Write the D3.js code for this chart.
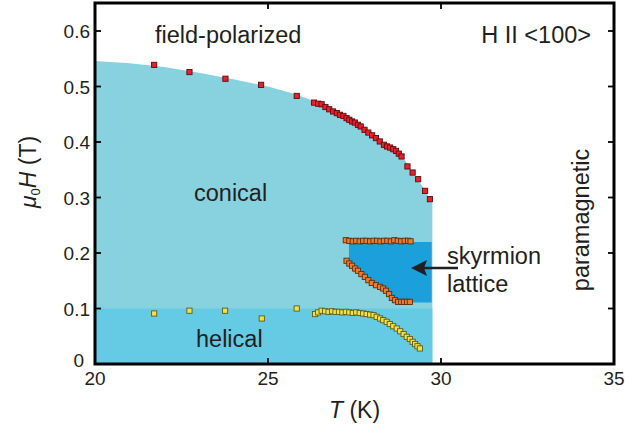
<!DOCTYPE html>
<html>
<head>
<meta charset="utf-8">
<script src="https://cdn.jsdelivr.net/npm/d3@7/dist/d3.min.js"></script>
<style>
  html, body { margin: 0; padding: 0; background: #fff; }
  svg text { font-family: "Liberation Sans", Arial, Helvetica, sans-serif; fill: #231f20; }
</style>
</head>
<body>
<svg id="chart" width="625" height="431"></svg>
<script>
// ---------- data ----------
const xTicks = [20, 25, 30, 35];
const yTicks = [0, 0.1, 0.2, 0.3, 0.4, 0.5, 0.6];
const yTickLabels = ["0", "0.1", "0.2", "0.3", "0.4", "0.5", "0.6"];

// upper phase boundary of the conical phase (T, H)
const conicalBoundaryT = [20, 21, 22, 23, 24, 25, 25.8, 26.5, 27, 27.5, 28, 28.5, 28.9, 29.2, 29.5, 29.75, 29.75];
const conicalBoundaryH = [0.546, 0.542, 0.535, 0.525, 0.513, 0.500, 0.486, 0.470, 0.455, 0.437, 0.414, 0.393, 0.372, 0.346, 0.316, 0.29, 0];
const helicalTop = 0.1;
const helicalTmax = 29.75;

// skyrmion lattice pocket
const skyT = [27.34, 29.73, 29.73, 28.8, 28.45, 28.0, 27.6, 27.34];
const skyH = [0.220, 0.220, 0.111, 0.111, 0.128, 0.146, 0.167, 0.188];

// Hc2 data (red)
const redT = [21.71, 22.73, 23.77, 24.80, 25.83, 26.33, 26.45, 26.55, 26.66, 26.77, 26.88, 26.99, 27.08, 27.18, 27.27, 27.35, 27.43, 27.51, 27.60, 27.68, 27.79, 27.90, 28.01, 28.12, 28.23, 28.35, 28.44, 28.53, 28.62, 28.70, 28.78, 28.86, 29.03, 29.18, 29.34, 29.54, 29.68];
const redH = [0.539, 0.526, 0.514, 0.503, 0.483, 0.471, 0.469, 0.468, 0.463, 0.459, 0.455, 0.452, 0.449, 0.447, 0.443, 0.440, 0.437, 0.435, 0.431, 0.428, 0.422, 0.417, 0.412, 0.407, 0.401, 0.395, 0.392, 0.390, 0.387, 0.384, 0.379, 0.374, 0.356, 0.345, 0.333, 0.312, 0.297];

// skyrmion boundaries (orange)
const orangeTopT = [27.25, 27.35, 27.45, 27.55, 27.65, 27.75, 27.85, 27.95, 28.05, 28.15, 28.25, 28.35, 28.45, 28.55, 28.65, 28.75, 28.85, 28.95, 29.05, 29.12];
const orangeTopH = [0.223, 0.222, 0.221, 0.222, 0.221, 0.222, 0.222, 0.221, 0.222, 0.222, 0.221, 0.222, 0.222, 0.221, 0.223, 0.222, 0.221, 0.222, 0.222, 0.221];
const orangeLowT = [27.27, 27.35, 27.43, 27.52, 27.60, 27.70, 27.80, 27.90, 28.00, 28.12, 28.24, 28.33, 28.41, 28.50, 28.58, 28.67, 28.76, 28.85, 28.93, 29.02, 29.10];
const orangeLowH = [0.186, 0.181, 0.177, 0.172, 0.168, 0.162, 0.157, 0.151, 0.146, 0.142, 0.139, 0.136, 0.132, 0.126, 0.119, 0.115, 0.112, 0.112, 0.112, 0.112, 0.112];

// helical boundary (yellow)
const yellowT = [21.71, 22.73, 23.76, 24.82, 25.83, 26.36, 26.45, 26.55, 26.65, 26.75, 26.85, 26.95, 27.05, 27.15, 27.25, 27.35, 27.45, 27.55, 27.65, 27.75, 27.85, 27.95, 28.05, 28.14, 28.24, 28.33, 28.43, 28.52, 28.62, 28.72, 28.82, 28.92, 29.01, 29.10, 29.18, 29.25, 29.32, 29.39];
const yellowH = [0.091, 0.096, 0.096, 0.082, 0.100, 0.090, 0.093, 0.096, 0.095, 0.094, 0.095, 0.094, 0.094, 0.093, 0.094, 0.093, 0.092, 0.093, 0.092, 0.091, 0.090, 0.089, 0.088, 0.085, 0.082, 0.079, 0.076, 0.072, 0.068, 0.064, 0.059, 0.054, 0.049, 0.045, 0.040, 0.036, 0.032, 0.028];

// ---------- layout ----------
const svg = d3.select("#chart");
const L = 95, R = 614, T = 3, B = 364;
const x = d3.scaleLinear().domain([20, 35]).range([L, R]);
const y = d3.scaleLinear().domain([0, 0.65]).range([B, B - 0.65 * (B - 31) / 0.6]);

const cConical = "#88d1de";
const cHelical = "#65cbe5";
const cSky = "#1ca0dc";

const g = svg.append("g");

// conical region
const conicalPts = conicalBoundaryT.map((t, i) => [t, conicalBoundaryH[i]]);
const areaPts = [[20, 0]].concat(conicalPts);
g.append("path")
  .attr("d", d3.line().x(d => x(d[0])).y(d => y(d[1])).curve(d3.curveLinear)(areaPts) + "Z")
  .attr("fill", cConical);

// helical region
g.append("rect")
  .attr("x", x(20)).attr("y", y(helicalTop))
  .attr("width", x(helicalTmax) - x(20)).attr("height", y(0) - y(helicalTop))
  .attr("fill", cHelical);

// skyrmion pocket
const skyPts = skyT.map((t, i) => [t, skyH[i]]);
g.append("path")
  .attr("d", d3.line().x(d => x(d[0])).y(d => y(d[1]))(skyPts) + "Z")
  .attr("fill", cSky);

// markers
function squares(ts, hs, fill, stroke) {
  g.append("g").selectAll("rect").data(ts.map((t, i) => [t, hs[i]])).join("rect")
    .attr("x", d => x(d[0]) - 2.6).attr("y", d => y(d[1]) - 2.6)
    .attr("width", 5.2).attr("height", 5.2)
    .attr("fill", fill).attr("stroke", stroke).attr("stroke-width", 0.9);
}
squares(redT, redH, "#e8202a", "#5a0c10");
squares(orangeTopT, orangeTopH, "#f07b2c", "#5a3010");
squares(orangeLowT, orangeLowH, "#f07b2c", "#5a3010");
squares(yellowT, yellowH, "#f3e23f", "#5f5a20");

// frame & ticks
const tickLen = 6;
const ax = svg.append("g").attr("stroke", "#000");
xTicks.forEach(v => {
  ax.append("line").attr("x1", x(v)).attr("x2", x(v)).attr("y1", B).attr("y2", B - tickLen).attr("stroke-width", 1.8);
  ax.append("line").attr("x1", x(v)).attr("x2", x(v)).attr("y1", T).attr("y2", T + tickLen).attr("stroke-width", 1.8);
});
yTicks.forEach(v => {
  ax.append("line").attr("x1", L).attr("x2", L + tickLen).attr("y1", y(v)).attr("y2", y(v)).attr("stroke-width", 1.8);
  ax.append("line").attr("x1", R).attr("x2", R - tickLen).attr("y1", y(v)).attr("y2", y(v)).attr("stroke-width", 1.8);
});
svg.append("rect").attr("x", L).attr("y", T).attr("width", R - L).attr("height", B - T)
  .attr("fill", "none").attr("stroke", "#000").attr("stroke-width", 3);

// tick labels
svg.append("g").selectAll("text").data(xTicks).join("text")
  .attr("x", d => x(d)).attr("y", B + 21).attr("text-anchor", "middle")
  .attr("font-size", 19).text(d => d);
svg.append("g").selectAll("text").data(yTicks).join("text")
  .attr("x", d => d === 0 ? L - 11 : L - 5)
  .attr("y", d => y(d) + (d === 0 ? 3 : 7)).attr("text-anchor", "end")
  .attr("font-size", 19).text((d, i) => yTickLabels[i]);

// axis titles
const xl = svg.append("text").attr("x", (L + R) / 2).attr("y", 418).attr("text-anchor", "middle").attr("font-size", 23);
xl.append("tspan").attr("font-style", "italic").text("T");
xl.append("tspan").text(" (K)");

const yl = svg.append("text").attr("transform", "translate(36,172) rotate(-90)").attr("text-anchor", "middle").attr("font-size", 23);
yl.append("tspan").attr("font-style", "italic").text("μ");
yl.append("tspan").attr("font-size", 13).attr("dy", 4).text("0");
yl.append("tspan").attr("font-style", "italic").attr("dy", -4).text("H");
yl.append("tspan").text(" (T)");

// region labels
const fs = 23.5;
svg.append("text").attr("x", 155).attr("y", 43).attr("font-size", fs).text("field-polarized");
svg.append("text").attr("x", 591).attr("y", 43).attr("text-anchor", "end").attr("font-size", fs).text("H II <100>");
svg.append("text").attr("x", 194).attr("y", 201).attr("font-size", fs).text("conical");
svg.append("text").attr("x", 196).attr("y", 347).attr("font-size", fs).text("helical");
svg.append("text").attr("x", 447).attr("y", 264).attr("font-size", fs).text("skyrmion");
svg.append("text").attr("x", 447).attr("y", 292).attr("font-size", fs).text("lattice");
svg.append("text").attr("transform", "translate(589,220) rotate(-90)").attr("text-anchor", "middle").attr("font-size", fs).text("paramagnetic");

// arrow
svg.append("line").attr("x1", 458).attr("x2", 424).attr("y1", 268).attr("y2", 268).attr("stroke", "#231f20").attr("stroke-width", 2.5);
svg.append("path").attr("d", "M411,268 L427,260 L424,268 L427,276 Z").attr("fill", "#231f20");
</script>
</body>
</html>
